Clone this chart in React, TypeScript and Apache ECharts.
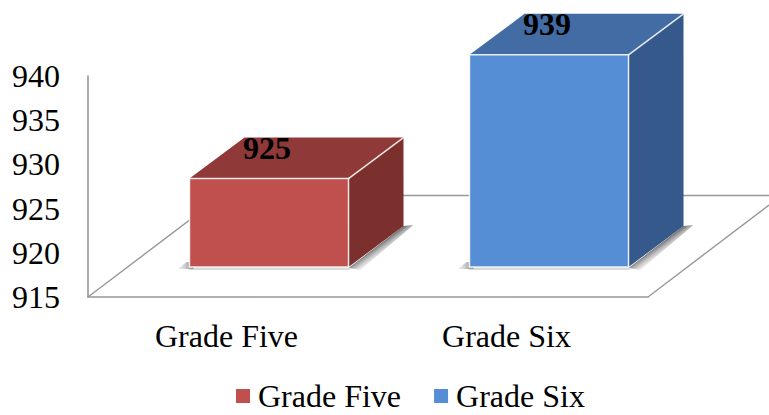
import React, { useEffect, useRef } from "react";
import * as echarts from "echarts";

const categories = ["Grade Five", "Grade Six"];
const gradeFive = [[0, 925]];
const gradeSix = [[1, 939]];
const yMin = 915;
const yMax = 940;
const yStep = 5;

const serif = '"Liberation Serif", "Times New Roman", serif';
const axisGray = "#979797";
const depthX = 55;
const depthY = -41;
const liftX = 41;
const liftY = -30;

const box = (front: string, top: string, side: string) => (params: any, api: any) => {
  const idx = api.value(0);
  const val = api.value(1);
  const band = api.size([1, 0])[0];
  const w = band * 0.568;
  const baseP = api.coord([idx, yMin]);
  const topP = api.coord([idx, val]);
  const l = baseP[0] + liftX - w / 2;
  const r = l + w;
  const b = baseP[1] + liftY;
  const t = topP[1] + liftY;
  const edge = { stroke: "rgba(255,255,255,0.85)", lineWidth: 1.5 };
  return {
    type: "group",
    children: [
      {
        type: "polygon",
        shape: { points: [[l - 12, b + 2], [l - 3, b - 5], [l + 4, b - 5], [l + 4, b + 2]] },
        style: {
          fill: new echarts.graphic.LinearGradient(0, 0, 1, 0, [
            { offset: 0, color: "rgba(150,150,150,0.05)" },
            { offset: 1, color: "rgba(100,100,100,0.8)" },
          ]),
        },
      },
      {
        type: "polygon",
        shape: { points: [[r, b + 1], [r + depthX, b + depthY], [r + depthX + 10, b + depthY - 1], [r + 12, b + 3]] },
        style: {
          fill: new echarts.graphic.LinearGradient(
            r + depthX / 2,
            b + depthY / 2,
            r + depthX / 2 + 8,
            b + depthY / 2 + 11,
            [
              { offset: 0, color: "rgba(85,85,85,0.85)" },
              { offset: 0.5, color: "rgba(160,160,160,0.45)" },
              { offset: 1, color: "rgba(255,255,255,0)" },
            ],
            true
          ),
        },
      },
      {
        type: "rect",
        shape: { x: l - 1, y: b, width: w + 2, height: 3 },
        style: { fill: "rgba(170,170,170,0.45)" },
      },
      {
        type: "polygon",
        shape: { points: [[l, t], [l + depthX, t + depthY], [r + depthX, t + depthY], [r, t]] },
        style: { fill: top },
      },
      {
        type: "polygon",
        shape: { points: [[r, t], [r + depthX, t + depthY], [r + depthX, b + depthY], [r, b]] },
        style: { fill: side },
      },
      {
        type: "line",
        shape: { x1: r, y1: t, x2: r + depthX, y2: t + depthY },
        style: edge,
      },
      {
        type: "rect",
        shape: { x: l, y: t, width: w, height: b - t },
        style: { fill: front, ...edge },
      },
      {
        type: "text",
        style: {
          text: String(val),
          x: (l + r) / 2 - 2,
          y: t + depthY - 6,
          align: "center",
          verticalAlign: "top",
          fill: "#000000",
          font: `bold 32px ${serif}`,
        },
      },
    ],
  };
};

export default function App() {
  const ref = useRef<HTMLDivElement>(null);
  useEffect(() => {
    const chart = echarts.init(ref.current!, null, { renderer: "svg" });
    chart.setOption({
      animation: false,
      backgroundColor: "#ffffff",
      grid: { left: 88, top: 76, width: 560, height: 221 },
      legend: {
        left: 236,
        top: 380,
        padding: 0,
        icon: "rect",
        itemWidth: 14,
        itemHeight: 14,
        itemGap: 33,
        data: categories,
        textStyle: { fontFamily: serif, fontSize: 32, color: "#000000", padding: [0, 0, 0, 3] },
      },
      xAxis: {
        type: "category",
        data: categories,
        axisTick: { show: false },
        axisLine: { lineStyle: { color: axisGray, width: 1.6 } },
        axisLabel: { fontFamily: serif, fontSize: 32, color: "#000000", margin: 23, padding: [0, 3, 0, 0] },
      },
      yAxis: {
        type: "value",
        min: yMin,
        max: yMax,
        interval: yStep,
        splitLine: { show: false },
        axisTick: { show: false },
        axisLine: { show: true, lineStyle: { color: axisGray, width: 1.6 } },
        axisLabel: { fontFamily: serif, fontSize: 32, color: "#000000", margin: 28, padding: [3, 0, 0, 0] },
      },
      graphic: [
        {
          type: "polyline",
          z: 0,
          shape: { points: [[88, 297], [222, 195.5], [769, 195.5]] },
          style: { stroke: axisGray, lineWidth: 1.4, fill: "none" },
        },
        {
          type: "line",
          z: 0,
          shape: { x1: 648, y1: 297, x2: 769, y2: 205 },
          style: { stroke: axisGray, lineWidth: 1.4 },
        },
      ],
      series: [
        {
          name: categories[0],
          type: "custom",
          data: gradeFive,
          clip: false,
          itemStyle: { color: "#C0504D" },
          encode: { x: 0, y: 1 },
          renderItem: box("#C0504D", "#8F3A38", "#7B302E"),
        },
        {
          name: categories[1],
          type: "custom",
          data: gradeSix,
          clip: false,
          itemStyle: { color: "#558ED5" },
          encode: { x: 0, y: 1 },
          renderItem: box("#558ED5", "#426CA3", "#35598A"),
        },
      ],
    });
    return () => chart.dispose();
  }, []);
  return <div ref={ref} style={{ position: "absolute", left: 0, top: 0, width: 769, height: 415 }} />;
}
